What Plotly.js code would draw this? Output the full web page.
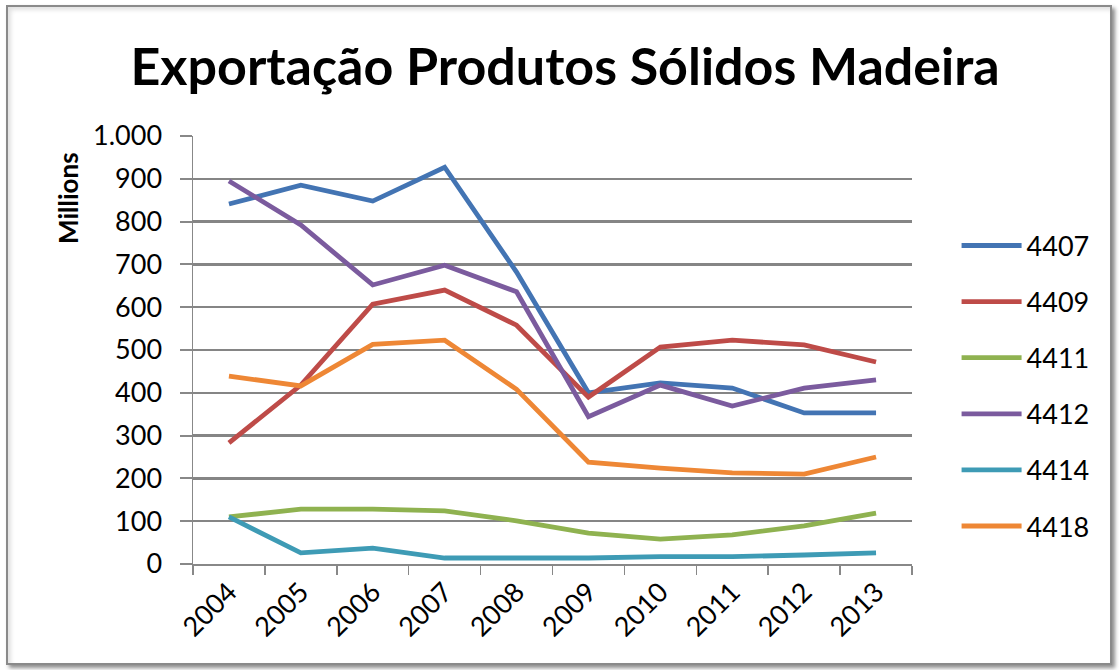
<!DOCTYPE html>
<html>
<head>
<meta charset="utf-8">
<script src="https://cdn.plot.ly/plotly-3.0.1.min.js"></script>
<style>
  html, body { margin: 0; padding: 0; background: #ffffff; }
  #wrap { position: relative; width: 1119px; height: 670px; overflow: hidden; background: #fff; }
  #frame { position: absolute; left: 6px; top: 5px; width: 1106px; height: 660px;
           border: 2px solid #8a8a8a; box-sizing: border-box;
           box-shadow: 3px 3px 4px rgba(0,0,0,0.45), inset 3px 3px 4px rgba(0,0,0,0.12); }
  #chart { position: absolute; left: 0; top: 0; width: 1119px; height: 670px; }
</style>
</head>
<body>
<div id="wrap">
  <div id="frame"></div>
  <div id="chart"></div>
</div>
<script>
const years = ['2004','2005','2006','2007','2008','2009','2010','2011','2012','2013'];
const seriesNames = ['4407','4409','4411','4412','4414','4418'];
const s4407 = [841, 885, 848, 927, 682, 400, 423, 411, 353, 353];
const s4409 = [283, 418, 607, 640, 558, 390, 507, 523, 512, 472];
const s4411 = [110, 128, 128, 124, 101, 72, 58, 68, 89, 119];
const s4412 = [895, 792, 652, 698, 636, 344, 418, 369, 411, 430];
const s4414 = [110, 26, 37, 14, 14, 14, 17, 17, 21, 26];
const s4418 = [439, 416, 513, 523, 408, 238, 224, 213, 210, 250];
const colors = ['#4374B3', '#BE4B48', '#8FB250', '#7B5B9E', '#3E9BB5', '#EE8735'];
const allSeries = [s4407, s4409, s4411, s4412, s4414, s4418];

const traces = allSeries.map((vals, i) => ({
  x: years,
  y: vals,
  name: seriesNames[i],
  legendgroup: 'g' + i,
  type: 'scatter',
  mode: 'lines',
  line: { color: colors[i], width: 4.8, shape: 'linear' },
  hoverinfo: 'x+y+name'
}));

const font = 'Lato, "Open Sans", sans-serif';

const layout = {
  width: 1119,
  height: 670,
  paper_bgcolor: 'rgba(0,0,0,0)',
  plot_bgcolor: 'rgba(0,0,0,0)',
  margin: { l: 193, r: 207, t: 136, b: 106, pad: 0 },
  separators: ',.',
  title: {
    text: '<b>Exportação Produtos Sólidos Madeira</b>',
    font: { family: font, size: 52, color: '#000' },
    x: 0.505, xanchor: 'center',
    y: 0.9, yanchor: 'middle'
  },
  xaxis: {
    type: 'category',
    tickangle: -45,
    tickson: 'boundaries',
    ticks: 'outside',
    ticklen: 9,
    tickcolor: '#888',
    tickwidth: 1.5,
    showline: true,
    linecolor: '#888',
    linewidth: 1.5,
    showgrid: false,
    tickfont: { family: font, size: 27, color: '#000' },
    range: [-0.5, 9.5],
    fixedrange: true
  },
  yaxis: {
    range: [0, 1000],
    dtick: 100,
    tick0: 0,
    tickformat: ',d',
    ticks: 'outside',
    ticklen: 12,
    tickcolor: '#888',
    tickwidth: 2,
    showline: true,
    linecolor: '#888',
    linewidth: 1.5,
    showgrid: true,
    gridcolor: '#858585',
    gridwidth: 2.4,
    zeroline: false,
    tickfont: { family: font, size: 27, color: '#000' },
    ticklabelstandoff: 12,
    fixedrange: true
  },
  annotations: [{
    text: '<b>Millions</b>',
    xref: 'paper', yref: 'paper',
    x: -0.174, y: 0.855,
    xanchor: 'center', yanchor: 'middle',
    textangle: -90,
    showarrow: false,
    font: { family: font, size: 26, color: '#000' }
  }],
  legend: {
    x: 1.062, xanchor: 'left',
    y: 0.416, yanchor: 'middle',
    font: { family: font, size: 27, color: '#000' },
    tracegroupgap: 18,
    itemwidth: 60,
    bgcolor: 'rgba(0,0,0,0)'
  },
  showlegend: true
};

Plotly.newPlot('chart', traces, layout, { displayModeBar: false, staticPlot: true });
</script>
</body>
</html>
